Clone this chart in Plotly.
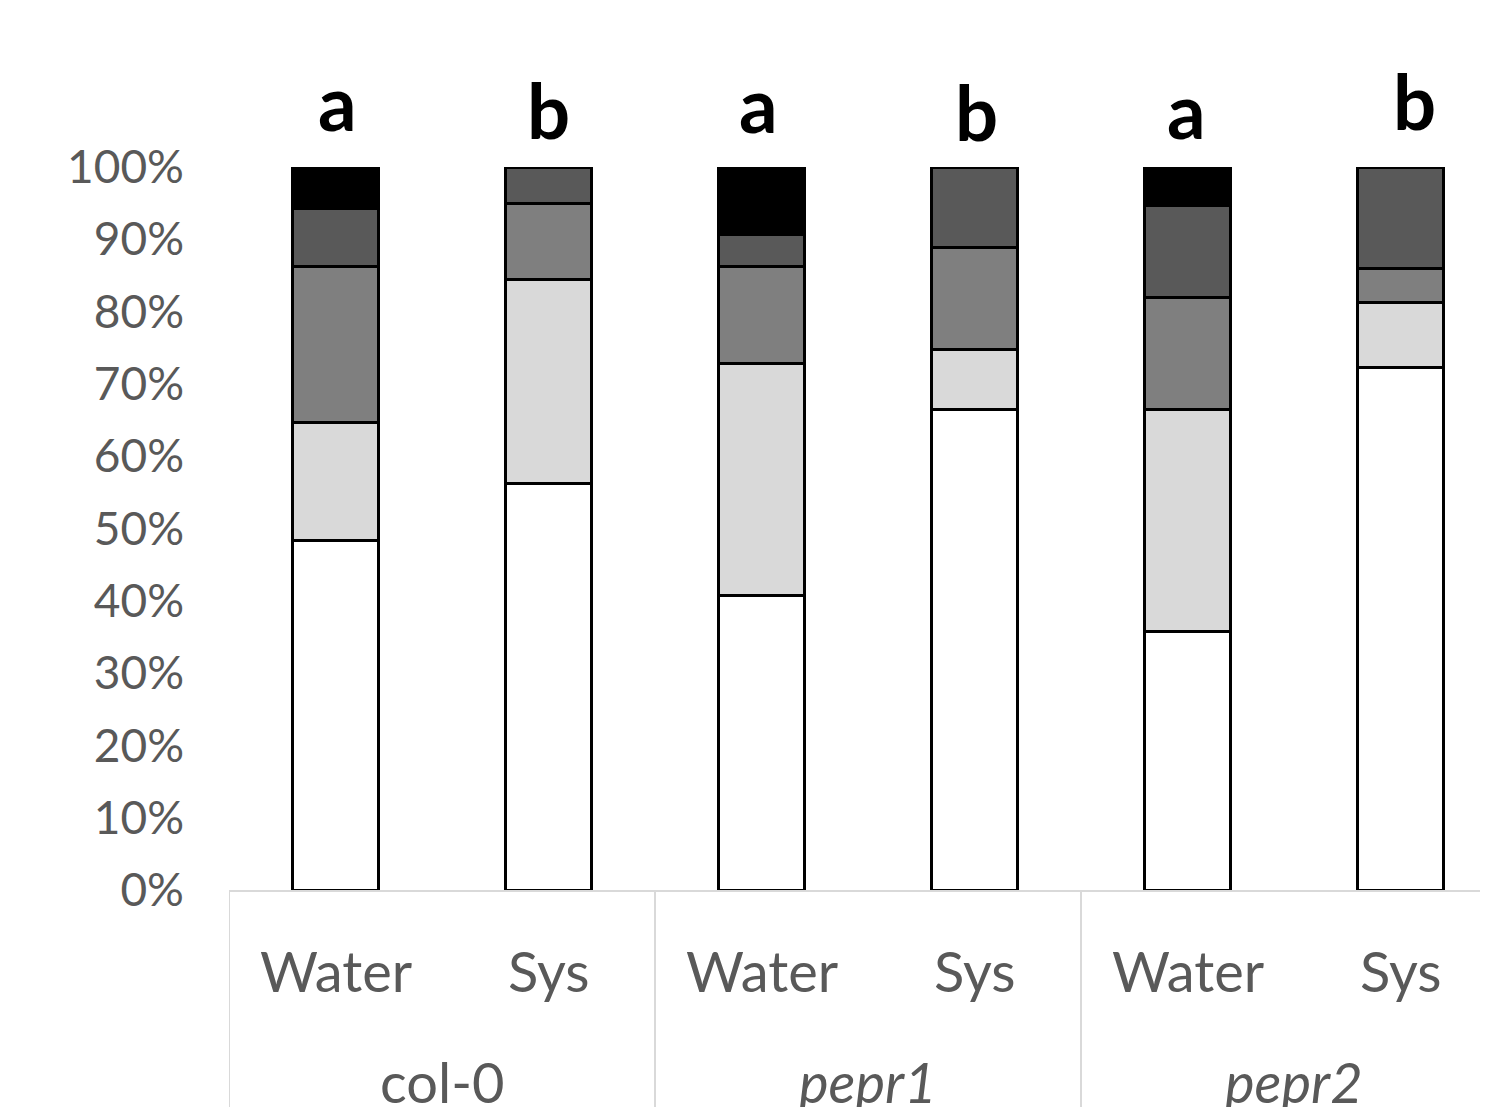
import plotly.graph_objects as go

# ---- data ----
treatments = ["Water", "Sys", "Water", "Sys", "Water", "Sys"]
genotypes = ["col-0", "<i>pepr1</i>", "<i>pepr2</i>"]
sig_letters = ["a", "b", "a", "b", "a", "b"]
class_names = ["Class 1", "Class 2", "Class 3", "Class 4", "Class 5"]
class1 = [48.4, 56.2, 40.8, 66.5, 35.8, 72.2]
class2 = [16.2, 28.3, 32.0, 8.3, 30.7, 9.1]
class3 = [21.6, 10.4, 13.5, 14.0, 15.4, 4.7]
class4 = [8.1, 5.1, 4.3, 11.2, 12.8, 14.0]
class5 = [5.7, 0.0, 9.4, 0.0, 5.3, 0.0]
y_ticks = [0, 10, 20, 30, 40, 50, 60, 70, 80, 90, 100]

# ---- style ----
colors = ["#ffffff", "#d9d9d9", "#7f7f7f", "#595959", "#000000"]
FONT = "Lato"
OFF = 8                      # page body margin of the html page
WIN_W, WIN_H = 1488, 1107
W, H = WIN_W - OFF, WIN_H - OFF
PLOT_L, PLOT_T, PLOT_B = 229, 167, 890      # page pixel positions of plot area
ML, MT = PLOT_L - OFF, PLOT_T - OFF
MB = H - (PLOT_B - OFF)
PH = PLOT_B - PLOT_T
CAT_PX = 213.0
letter_baselines = [132, 140, 134, 142, 140, 131]   # page-pixel baselines of the letters
letter_dx = [2, 0, -3, 2, -1, 14]                   # small horizontal pixel offsets

xpos = list(range(len(treatments)))
series = [class1, class2, class3, class4, class5]

fig = go.Figure()
for name, vals, col in zip(class_names, series, colors):
    fig.add_trace(go.Bar(
        x=xpos, y=vals, name=name, width=0.4,
        marker=dict(color=col, line=dict(color="#000000", width=3)),
        cliponaxis=False, showlegend=False,
    ))

def py(gpix):
    return (PLOT_B - gpix) / PH

annotations = []
fs_l = 76
for i, (lt, bl, dx) in enumerate(zip(sig_letters, letter_baselines, letter_dx)):
    annotations.append(dict(
        x=xpos[i], y=py(bl + 0.213 * fs_l + 1), xref="x", yref="paper",
        text=f"<b>{lt}</b>", showarrow=False, xanchor="center", yanchor="bottom",
        xshift=dx, font=dict(family=FONT, size=fs_l, color="#000000"),
    ))
fs_t = 56
for i, t in enumerate(treatments):
    annotations.append(dict(
        x=xpos[i], y=py(993 + 0.213 * fs_t + 1), xref="x", yref="paper",
        text=t, showarrow=False, xanchor="center", yanchor="bottom",
        font=dict(family=FONT, size=fs_t, color="#595959"),
    ))
for g, gname in enumerate(genotypes):
    annotations.append(dict(
        x=(xpos[2 * g] + xpos[2 * g + 1]) / 2, y=py(1104 + 0.213 * fs_t + 1),
        xref="x", yref="paper", text=gname, showarrow=False,
        xanchor="center", yanchor="bottom",
        font=dict(family=FONT, size=fs_t, color="#595959"),
    ))

shapes = []
for g in range(len(genotypes)):
    xs = xpos[2 * g] - 0.5
    shapes.append(dict(type="line", xref="x", yref="paper", x0=xs, x1=xs,
                       y0=0, y1=-MB / PH, line=dict(color="#d9d9d9", width=2)))

fig.update_layout(
    barmode="stack",
    width=W, height=H,
    margin=dict(l=ML, r=0, t=MT, b=MB, pad=0),
    paper_bgcolor="#ffffff", plot_bgcolor="#ffffff",
    font=dict(family=FONT),
    annotations=annotations, shapes=shapes,
    xaxis=dict(range=[-0.5, -0.5 + (WIN_W - PLOT_L) / CAT_PX], showticklabels=False,
               showgrid=False, zeroline=False, showline=True,
               linecolor="#d9d9d9", linewidth=2, ticks=""),
    yaxis=dict(range=[0, 100], tickvals=y_ticks,
               ticktext=[f"{v}%" for v in y_ticks],
               showgrid=False, zeroline=False, showline=False, ticks="",
               ticklabelstandoff=44,
               tickfont=dict(family=FONT, size=46, color="#595959")),
)

fig.write_html("out.html")
